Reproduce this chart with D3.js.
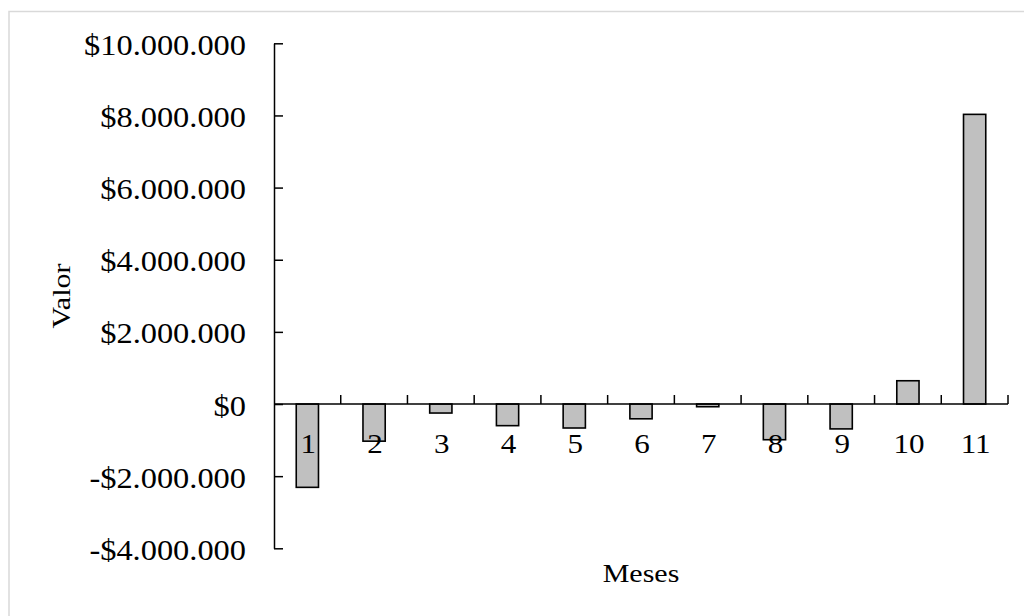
<!DOCTYPE html>
<html>
<head>
<meta charset="utf-8">
<script src="https://cdn.jsdelivr.net/npm/d3@7"></script>
<style>
html,body{margin:0;padding:0;background:#fff;}
svg{display:block;}
text{font-family:"Liberation Serif","Times New Roman",serif;fill:#000;}
</style>
</head>
<body>
<svg id="chart" width="1024" height="616"></svg>
<script>
const months = [1,2,3,4,5,6,7,8,9,10,11];
const values = [-2310000,-1030000,-250000,-600000,-665000,-410000,-75000,-990000,-690000,645000,8030000];
const yTicks = [-4000000,-2000000,0,2000000,4000000,6000000,8000000,10000000];
const xTitle = "Meses";
const yTitle = "Valor";

const svg = d3.select("#chart");

// outer border
svg.append("rect").attr("x",9).attr("y",11.5).attr("width",1040).attr("height",640)
  .attr("fill","none").attr("stroke","#d9d9d9").attr("stroke-width",1.5);

const y = d3.scaleLinear().domain([-4000000,10000000]).range([548.3,43.3]);
const x = d3.scaleBand().domain(months).range([274,1008]).padding(0);
const bw = x.bandwidth();

const fmt = v => (v<0?"-":"") + "$" + d3.format(",")(Math.abs(v)).replace(/,/g,".");

// bars
svg.append("g").selectAll("rect").data(months).join("rect")
  .attr("x",(m)=>x(m)+bw/3)
  .attr("width",bw/3)
  .attr("y",(m,i)=>y(Math.max(0,values[i])))
  .attr("height",(m,i)=>Math.abs(y(values[i])-y(0)))
  .attr("fill","#c0c0c0").attr("stroke","#000").attr("stroke-width",1.6);

// y axis
const YS = 1.08;
const yAxis = svg.append("g").attr("transform","translate(274,0)")
  .call(d3.axisLeft(y).tickValues(yTicks).tickFormat(fmt).tickSizeInner(-9).tickSizeOuter(0).tickPadding(28));
yAxis.select(".domain").attr("stroke","#000").attr("stroke-width",1.5);
yAxis.selectAll(".tick line").attr("stroke","#000").attr("stroke-width",1.5);
yAxis.selectAll(".tick text")
  .attr("font-size",30).attr("font-family","Liberation Serif").attr("fill","#000")
  .attr("dy",null)
  .each(function(){
    const xx = +this.getAttribute("x");
    d3.select(this).attr("x",xx/YS).attr("y",11).attr("transform",`scale(${YS},1)`);
  });

// x axis at zero
const x0 = y(0);
const xg = svg.append("g");
xg.append("line").attr("x1",x.range()[0]).attr("x2",x.range()[1]).attr("y1",x0).attr("y2",x0)
  .attr("stroke","#000").attr("stroke-width",1.5);
xg.selectAll("line.tk").data(months).join("line").attr("class","tk")
  .attr("x1",m=>x(m)+bw).attr("x2",m=>x(m)+bw).attr("y1",x0).attr("y2",x0-9)
  .attr("stroke","#000").attr("stroke-width",1.5);
xg.selectAll("g.lbl").data(months).join("g").attr("class","lbl")
  .attr("transform",m=>`translate(${x(m)+bw/2+1},${x0+48.5}) scale(1.15,1)`)
  .append("text").attr("text-anchor","middle").attr("font-size",27).text(m=>m);

// axis titles
svg.append("g").attr("transform",`translate(641,582) scale(1.2,1)`)
  .append("text").attr("text-anchor","middle").attr("font-size",25).text(xTitle);
svg.append("g").attr("transform",`translate(70,296) rotate(-90) scale(1.2,1)`)
  .append("text").attr("text-anchor","middle").attr("font-size",25).text(yTitle);
</script>
</body>
</html>
